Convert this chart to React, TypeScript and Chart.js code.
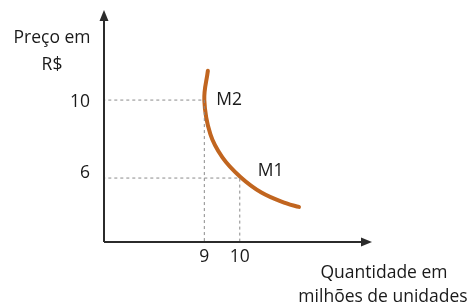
import React, { useEffect, useRef } from "react";
import { Chart, registerables } from "chart.js";

Chart.register(...registerables);

// Demand curve points (quantity, price)
const curveQuantity = [9.1, 9.0, 9.17, 9.51, 10.01, 10.61, 11.32, 11.67];
const curvePrice = [11.5, 10.0, 8.25, 7.06, 6.07, 5.26, 4.7, 4.52];

// Marked points
const markNames = ["M2", "M1"];
const markQuantity = [9, 10];
const markPrice = [10, 6];

// Tick labels
const xTickLabels = ["9", "10"];
const yTickLabels = ["10", "6"];

const yAxisTitle = ["Preço em", "R$"];
const xAxisTitle = ["Quantidade em", "milhões de unidades"];

const FONT = "'Open Sans', sans-serif";

export default function App() {
  const ref = useRef<HTMLCanvasElement | null>(null);

  useEffect(() => {
    const canvas = ref.current;
    if (!canvas) return;

    const guideSets = markQuantity.map((q, i) => ({
      type: "line" as const,
      data: [
        { x: -100, y: markPrice[i] },
        { x: q, y: markPrice[i] },
        { x: q, y: -100 },
      ],
      borderColor: "#8a8a8a",
      borderWidth: 1,
      borderDash: [3, 3],
      pointRadius: 0,
      tension: 0,
    }));

    const overlay = {
      id: "overlay",
      afterDatasetsDraw(chart: any) {
        const { ctx, chartArea, scales } = chart;
        const xs = scales.x;
        const ys = scales.y;
        const left = chartArea.left;
        const bottom = chartArea.bottom;
        const right = chartArea.right;
        const top = chartArea.top;
        ctx.save();
        // axes
        ctx.strokeStyle = "#2b2b2b";
        ctx.fillStyle = "#2b2b2b";
        ctx.lineWidth = 2;
        ctx.beginPath();
        ctx.moveTo(left, bottom);
        ctx.lineTo(left, top + 8);
        ctx.moveTo(left, bottom);
        ctx.lineTo(right - 8, bottom);
        ctx.stroke();
        // arrowheads
        ctx.beginPath();
        ctx.moveTo(left, top);
        ctx.lineTo(left - 4.5, top + 11);
        ctx.lineTo(left + 4.5, top + 11);
        ctx.closePath();
        ctx.fill();
        ctx.beginPath();
        ctx.moveTo(right, bottom);
        ctx.lineTo(right - 11, bottom - 4.5);
        ctx.lineTo(right - 11, bottom + 4.5);
        ctx.closePath();
        ctx.fill();

        ctx.fillStyle = "#1a1a1a";
        ctx.font = `17.5px ${FONT}`;
        // y tick labels
        ctx.textAlign = "right";
        ctx.textBaseline = "middle";
        yTickLabels.forEach((t, i) => {
          ctx.fillText(t, left - 14, ys.getPixelForValue(markPrice[i]) + (i === 0 ? 2 : -5));
        });
        // x tick labels
        ctx.textAlign = "center";
        ctx.textBaseline = "middle";
        xTickLabels.forEach((t, i) => {
          ctx.fillText(t, xs.getPixelForValue(markQuantity[i]), bottom + 15);
        });
        // point labels
        ctx.textAlign = "left";
        markNames.forEach((n, i) => {
          const px = xs.getPixelForValue(markQuantity[i]);
          const py = ys.getPixelForValue(markPrice[i]);
          if (i === 0) ctx.fillText(n, px + 12, py);
          else ctx.fillText(n, px + 18, py - 7);
        });
        // axis titles
        ctx.textAlign = "center";
        ctx.fillText(yAxisTitle[0], 52, 38);
        ctx.fillText(yAxisTitle[1], 52, 65);
        ctx.fillText(xAxisTitle[0], 384, 273);
        ctx.fillText(xAxisTitle[1], 383, 297);
        ctx.restore();
      },
    };

    const chart = new Chart(canvas, {
      type: "scatter",
      data: {
        datasets: [
          ...guideSets,
          {
            type: "line" as const,
            data: curveQuantity.map((q, i) => ({ x: q, y: curvePrice[i] })),
            borderColor: "#C1651F",
            borderWidth: 4,
            pointRadius: 0,
            tension: 0.4,
            borderCapStyle: "round" as const,
          },
        ],
      },
      options: {
        responsive: false,
        animation: false,
        maintainAspectRatio: false,
        layout: { padding: { left: 104, right: 102, top: 10, bottom: 64 } },
        plugins: { legend: { display: false }, tooltip: { enabled: false } },
        scales: {
          x: { type: "linear", display: false, min: 6.17, max: 13.73 },
          y: { type: "linear", display: false, min: 2.72, max: 14.62 },
        },
      },
      plugins: [overlay],
    });
    return () => chart.destroy();
  }, []);

  return (
    <div style={{ position: "fixed", left: 0, top: 0, width: 474, height: 306, background: "#fff" }}>
      <canvas ref={ref} width={474} height={306} style={{ width: 474, height: 306 }} />
    </div>
  );
}
